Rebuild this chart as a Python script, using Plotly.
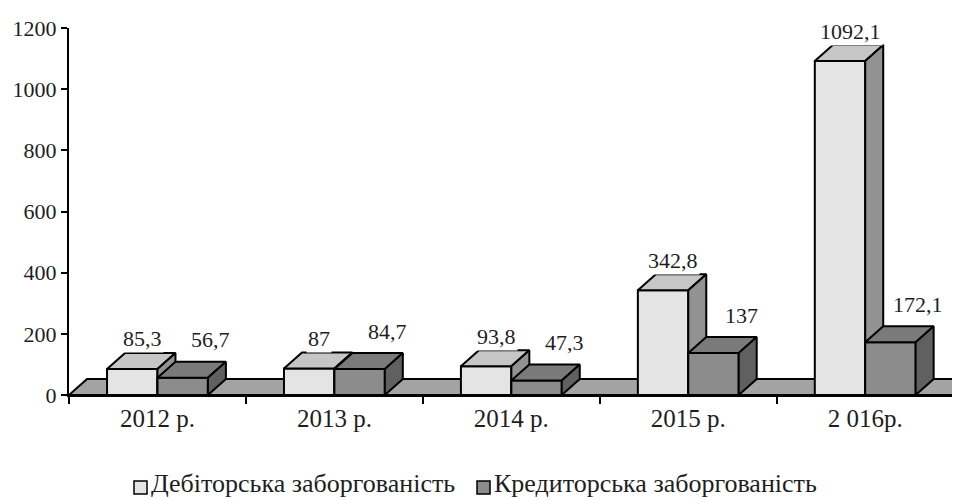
import plotly.graph_objects as go

# ---- data ----
categories = ["2012 р.", "2013 р.", "2014 р.", "2015 р.", "2 016р."]
debit = [85.3, 87, 93.8, 342.8, 1092.1]
credit = [56.7, 84.7, 47.3, 137, 172.1]
series_names = ["Дебіторська заборгованість", "Кредиторська заборгованість"]
y_ticks = [0, 200, 400, 600, 800, 1000, 1200]

# ---- geometry / style ----
OFF = 8                      # default page body margin in the browser
W, H = 960 - OFF, 500 - OFF
ML, MR, MT, MB = 69 - OFF, 1, 28 - OFF, 105
XR = [-0.5, 4.53]
YR = [0, 1200]
px_per_x = (W - ML - MR) / (XR[1] - XR[0])
px_per_y = (H - MT - MB) / (YR[1] - YR[0])
DX = 18 / px_per_x          # depth offset (x, data units)
DY = 16 / px_per_y          # depth offset (y, data units)
BW = 0.285                  # bar width in category units
FONT = "Liberation Serif"
TXT = "#1e1e1e"

LIGHT = dict(front="#e4e4e4", top="#c6c6c6", side="#929292")
DARK = dict(front="#8c8c8c", top="#7a7a7a", side="#606060")
FLOOR = "#a3a3a3"


def faces(x0, x1, v):
    front = [(x0, 0), (x1, 0), (x1, v), (x0, v), (x0, 0)]
    top = [(x0, v), (x1, v), (x1 + DX, v + DY), (x0 + DX, v + DY), (x0, v)]
    side = [(x1, 0), (x1 + DX, DY), (x1 + DX, v + DY), (x1, v), (x1, 0)]
    return front, top, side


def poly_trace(polys, color):
    xs, ys = [], []
    for p in polys:
        xs += [q[0] for q in p] + [None]
        ys += [q[1] for q in p] + [None]
    return go.Scatter(x=xs, y=ys, mode="lines", fill="toself", fillcolor=color,
                      line=dict(color="black", width=2), hoverinfo="skip",
                      showlegend=False)


fig = go.Figure()

# floor
fx0, fx1 = -0.5, 4.5
floor = [(fx0, 0), (fx1, 0), (fx1 + DX, DY), (fx0 + DX, DY), (fx0, 0)]
fig.add_trace(poly_trace([floor], FLOOR))

for vals, col, off in [(debit, LIGHT, -BW), (credit, DARK, 0.0)]:
    fr, tp, sd = [], [], []
    for i, v in enumerate(vals):
        x0 = i + off
        f, t, s = faces(x0, x0 + BW, v)
        fr.append(f); tp.append(t); sd.append(s)
    fig.add_trace(poly_trace(fr, col["front"]))
    fig.add_trace(poly_trace(tp, col["top"]))
    fig.add_trace(poly_trace(sd, col["side"]))

# category axis helper trace
fig.add_trace(go.Scatter(x=categories, y=[None] * len(categories), xaxis="x2",
                         mode="markers", showlegend=False, hoverinfo="skip"))


def fmt(v):
    return f"{v:g}".replace(".", ",")


for i, v in enumerate(debit):
    fig.add_annotation(x=i - BW / 2, y=v, text=fmt(v), showarrow=False,
                       xshift=10, yshift=30, bgcolor="white", borderpad=1,
                       font=dict(family=FONT, size=22, color=TXT))
for i, v in enumerate(credit):
    fig.add_annotation(x=i + BW / 2, y=v, text=fmt(v), showarrow=False,
                       xshift=28, yshift=38, bgcolor="white", borderpad=1,
                       font=dict(family=FONT, size=22, color=TXT))


# manual legend (page pixel positions -> paper coords)
def px2paper_x(px):
    return (px - OFF - ML) / (W - ML - MR)


def px2paper_y(py):
    return (H - MB - (py - OFF)) / (H - MT - MB)


leg_items = [(134, series_names[0], LIGHT["front"]), (477, series_names[1], DARK["front"])]
for bx, name, colr in leg_items:
    fig.add_shape(type="rect", xref="paper", yref="paper",
                  x0=px2paper_x(bx), x1=px2paper_x(bx + 13),
                  y0=px2paper_y(494), y1=px2paper_y(481),
                  fillcolor=colr, line=dict(color="black", width=1.5))
    fig.add_annotation(xref="paper", yref="paper", x=px2paper_x(bx + 16), y=px2paper_y(484),
                       xanchor="left", yanchor="middle", text=name, showarrow=False,
                       borderpad=0, font=dict(family=FONT, size=26, color=TXT))

fig.update_layout(
    width=W, height=H,
    margin=dict(l=ML, r=MR, t=MT, b=MB, autoexpand=False),
    paper_bgcolor="white", plot_bgcolor="white",
    font=dict(family=FONT, size=22, color=TXT),
    xaxis=dict(range=XR, visible=False, fixedrange=True),
    xaxis2=dict(range=XR, overlaying="x", anchor="y", side="bottom",
                type="category", categoryorder="array", categoryarray=categories,
                tickson="boundaries", ticks="outside", ticklen=7, tickwidth=2,
                tickcolor="black", showline=True, linecolor="black", linewidth=2,
                showgrid=False, zeroline=False,
                tickfont=dict(family=FONT, size=25, color=TXT)),
    yaxis=dict(range=YR, tickvals=y_ticks, ticks="outside", ticklen=6, tickwidth=2,
               tickcolor="black", showline=True, linecolor="black", linewidth=2,
               showgrid=False, zeroline=False,
               tickfont=dict(family=FONT, size=22, color=TXT)),
    showlegend=False,
)

fig.write_html("out.html")
